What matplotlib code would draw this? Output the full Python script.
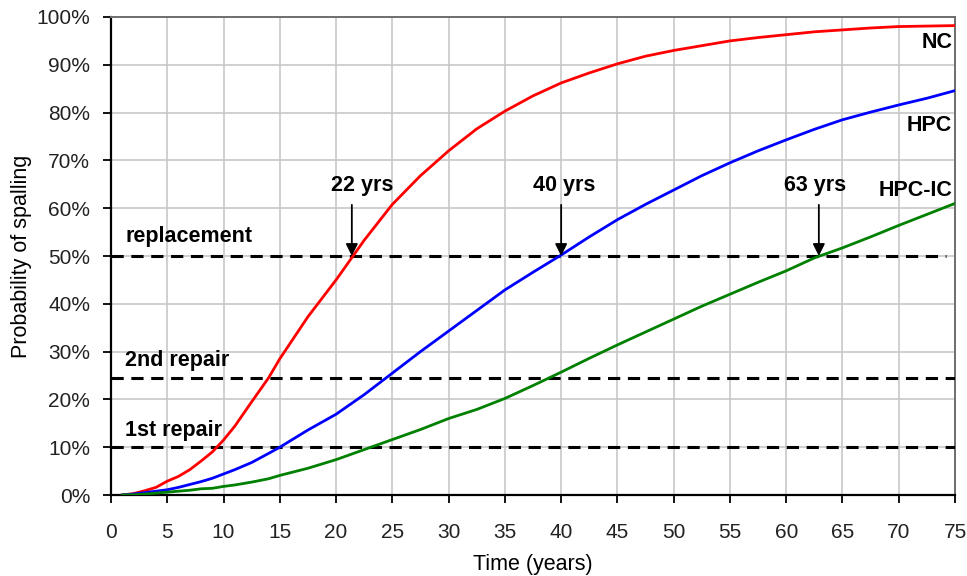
import matplotlib
matplotlib.use("Agg")
import matplotlib.pyplot as plt
from matplotlib.ticker import FuncFormatter, MultipleLocator

plt.rcParams['font.family'] = ['Liberation Sans', 'DejaVu Sans']

years = [1, 2, 3, 4, 5, 6, 7, 8, 9, 10, 11, 12.5, 14, 15, 17.5, 20, 22.5, 25, 27.5, 30, 32.5, 35, 37.5, 40,
         42.5, 45, 47.5, 50, 52.5, 55, 57.5, 60, 62.5, 65, 67.5, 70, 72.5, 75]
nc = [0, 0.3, 0.9, 1.6, 2.9, 3.9, 5.3, 7.1, 9.0, 11.5, 14.4, 19.5, 24.5, 28.5, 37.3, 45, 53.3, 60.8, 66.8, 72.0,
      76.6, 80.3, 83.5, 86.2, 88.3, 90.2, 91.8, 93.0, 94.0, 95.0, 95.7, 96.3, 96.9, 97.3, 97.7, 98.0, 98.1, 98.2]
hpc = [0, 0.2, 0.5, 0.8, 1.1, 1.6, 2.2, 2.8, 3.5, 4.4, 5.3, 6.8, 8.7, 10.0, 13.6, 16.9, 21.0, 25.5, 30.0, 34.3,
       38.6, 42.9, 46.6, 50.2, 54.0, 57.6, 60.8, 63.8, 66.8, 69.5, 72.0, 74.3, 76.5, 78.5, 80.1, 81.6, 83.0, 84.6]
hpcic = [0, 0.05, 0.2, 0.4, 0.6, 0.8, 1.0, 1.3, 1.4, 1.8, 2.1, 2.7, 3.4, 4.1, 5.6, 7.4, 9.5, 11.6, 13.7, 16.0,
         17.9, 20.2, 22.9, 25.7, 28.6, 31.4, 34.1, 36.8, 39.5, 42.0, 44.5, 46.9, 49.6, 51.7, 54.0, 56.4, 58.7, 61.0]

thresholds = [50, 24.5, 10]
threshold_labels = ['replacement', '2nd repair', '1st repair']
threshold_ends = [74.2, 75, 75]
label_y = [54.0, 28.2, 13.4]

cross_years = [21.4, 40, 62.9]
cross_label_x = [22.3, 40.3, 62.6]
cross_labels = ['22 yrs', '40 yrs', '63 yrs']

series_names = ['NC', 'HPC', 'HPC-IC']
series_label_y = [94.6, 77.2, 63.8]

fig = plt.figure(figsize=(9.67, 5.76), dpi=100)
ax = fig.add_axes([0.1148, 0.1406, 0.8728, 0.8299])

ax.set_xlim(0, 75)
ax.set_ylim(0, 100)
ax.xaxis.set_major_locator(MultipleLocator(5))
ax.yaxis.set_major_locator(MultipleLocator(10))
ax.yaxis.set_major_formatter(FuncFormatter(lambda v, p: f"{int(round(v))}%"))
ax.grid(True, color='#c8c8c8', lw=1.2)
ax.set_axisbelow(True)

for s in ['left', 'bottom']:
    ax.spines[s].set_color('black')
    ax.spines[s].set_linewidth(1.6)
for s in ['top', 'right']:
    ax.spines[s].set_color('#6e6e6e')
    ax.spines[s].set_linewidth(1.4)

ax.tick_params(axis='both', direction='out', length=6, width=1.3, labelsize=15, colors='black')
ax.tick_params(axis='x', pad=14)
ax.tick_params(axis='y', pad=9)
for lbl in ax.get_xticklabels() + ax.get_yticklabels():
    lbl.set_color('#222222')

for t, xe in zip(thresholds, threshold_ends):
    ax.plot([0, xe], [t, t], color='black', lw=2.2, dashes=(4, 2.5), zorder=3)

ax.plot(years, nc, color='#ff0000', lw=2, zorder=4)
ax.plot(years, hpc, color='#0000ff', lw=2, zorder=4)
ax.plot(years, hpcic, color='#008000', lw=2, zorder=4)

for lab, ly in zip(threshold_labels, label_y):
    ax.text(1.25, ly, lab, fontsize=15.5, fontweight='bold', ha='left', va='center', zorder=5)

for cx, lx, cl in zip(cross_years, cross_label_x, cross_labels):
    ax.annotate('', xy=(cx, 50), xytext=(cx, 60.7),
                arrowprops=dict(arrowstyle='-|>', color='black', lw=1.3, mutation_scale=18,
                                shrinkA=0, shrinkB=0), zorder=6)
    ax.text(lx, 64.8, cl, fontsize=15.5, fontweight='bold', ha='center', va='center', zorder=5)

for nm, ly in zip(series_names, series_label_y):
    ax.text(74.75, ly, nm, fontsize=15.5, fontweight='bold', ha='right', va='center', zorder=5)

ax.set_xlabel('Time (years)', fontsize=15.5, labelpad=9)
ax.set_ylabel('Probability of spalling', fontsize=15.5, labelpad=3)

fig.savefig('out.png', dpi=100)
